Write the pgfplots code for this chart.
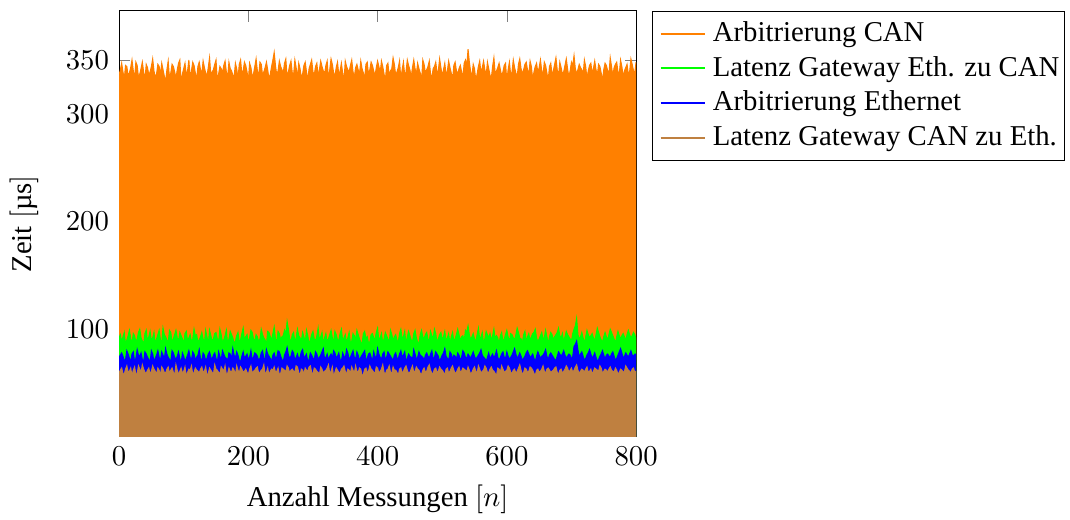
\documentclass[border=0pt,11pt]{standalone}
\usepackage{fontspec}
\setmainfont{Liberation Serif}
\usepackage{pgfplots}
\usepackage{pgfplotstable}
\pgfplotsset{compat=1.18}

% x  Arb.CAN  GW Eth->CAN  Arb.Eth  GW CAN->Eth
\pgfplotstableread{
x can gwe eth gwc
0 336 92 74 60
2 341 95 76 62
4 347 88 78 64
6 339 93 75 59
8 332 97 71 58
10 345 86 72 63
12 344 90 80 66
14 335 94 77 60
16 338 99 73 61
18 343 91 70 64
20 350 87 77 57
22 340 96 79 62
24 333 94 70 65
26 348 88 73 58
28 345 91 81 59
30 334 97 76 66
32 337 100 75 63
34 342 92 78 60
36 348 89 72 67
38 339 86 70 63
40 331 96 79 60
42 346 99 77 59
44 343 88 74 62
46 336 93 72 64
48 339 98 69 58
50 344 89 80 61
52 351 92 77 66
54 340 97 70 63
56 334 86 73 61
58 337 91 76 58
60 346 95 80 64
62 344 99 74 62
64 336 90 71 57
66 347 87 79 65
68 341 101 76 63
70 335 95 72 60
72 330 93 82 59
74 341 90 77 63
76 349 87 74 65
78 333 99 72 59
80 338 97 70 62
82 346 88 80 64
84 344 91 78 60
86 339 95 74 57
88 333 99 72 67
90 341 92 75 62
92 347 89 79 58
94 350 97 73 61
96 329 94 68 64
98 337 91 78 59
100 342 86 75 61
102 347 96 70 65
104 336 98 73 56
106 340 89 76 60
108 350 92 80 63
110 333 95 74 62
112 340 88 71 66
114 348 91 79 58
116 345 100 77 60
118 338 94 71 64
120 332 95 74 62
122 344 88 76 61
124 348 90 81 59
126 341 93 73 63
128 337 97 70 65
130 349 91 78 60
132 343 87 76 61
134 338 99 71 65
136 335 93 73 57
138 343 86 77 59
140 352 99 79 64
142 336 94 74 62
144 339 89 72 60
146 341 91 76 58
148 346 96 78 67
150 350 97 73 63
152 331 91 69 62
154 337 88 79 60
156 344 100 75 58
158 342 95 71 65
160 338 88 80 63
162 345 90 77 61
164 349 94 74 66
166 339 99 73 58
168 334 86 71 59
170 348 91 78 64
172 342 98 77 61
174 340 95 72 60
176 336 92 82 64
178 334 87 76 62
180 347 89 73 57
182 342 94 79 66
184 333 97 76 62
186 346 88 71 59
188 350 90 70 65
190 337 96 75 63
192 340 101 79 60
194 348 89 73 61
196 345 93 75 63
198 339 95 77 60
200 331 87 72 58
202 347 92 74 63
204 343 99 80 66
206 335 97 71 59
208 337 91 74 61
210 344 89 78 62
212 351 95 77 64
214 340 93 75 65
216 335 88 71 59
218 348 91 73 60
220 346 100 78 62
222 336 95 80 63
224 339 92 73 67
226 343 90 72 58
228 348 86 81 60
230 341 98 77 64
232 332 97 75 57
234 337 93 73 61
236 344 90 70 63
238 350 96 76 62
240 357 102 78 65
242 345 91 73 60
244 336 89 74 61
246 340 98 80 64
248 349 96 79 58
250 344 90 75 59
252 341 93 72 64
254 338 94 70 63
256 347 99 76 62
258 351 95 79 60
260 334 107 83 66
262 339 100 76 64
264 345 91 73 59
266 349 88 75 62
268 338 95 80 63
270 336 97 78 61
272 350 88 71 60
274 343 92 74 66
276 333 100 77 65
278 347 94 72 60
280 342 92 74 57
282 334 89 79 63
284 337 97 81 62
286 345 93 73 58
288 348 87 75 64
290 339 99 77 62
292 331 94 70 61
294 342 86 72 65
296 346 90 78 66
298 350 95 76 60
300 339 98 73 58
302 336 91 72 64
304 344 89 79 63
306 347 94 77 61
308 335 101 72 60
310 341 89 74 58
312 349 93 76 65
314 344 97 79 63
316 340 86 82 59
318 337 92 72 61
320 345 96 74 62
322 349 88 77 64
324 332 91 71 67
326 341 95 75 59
328 351 99 77 61
330 346 92 73 65
332 338 88 80 56
334 335 98 78 60
336 343 95 73 64
338 348 90 75 62
340 336 90 78 60
342 340 96 72 59
344 347 100 70 63
346 338 89 78 64
348 330 92 75 66
350 349 95 73 61
352 344 87 81 58
354 341 92 78 63
356 339 97 72 62
358 345 87 74 59
360 350 89 77 65
362 339 96 80 62
364 334 94 74 59
366 343 90 72 66
368 346 99 79 61
370 341 95 76 60
372 337 91 71 64
374 349 88 74 63
376 342 86 76 57
378 338 96 78 58
380 333 98 80 63
382 346 91 71 64
384 348 93 73 60
386 336 87 77 61
388 341 88 78 66
390 348 95 74 63
392 345 96 70 62
394 340 92 79 60
396 335 90 75 59
398 343 97 72 65
400 349 101 82 64
402 344 89 77 59
404 338 92 74 61
406 349 96 72 63
408 344 87 77 67
410 337 91 79 60
412 331 97 72 58
414 345 94 74 62
416 347 91 79 63
418 335 88 77 66
420 340 99 75 60
422 342 95 73 59
424 352 89 71 65
426 346 93 76 62
428 336 95 78 62
430 339 90 73 60
432 343 88 73 57
434 349 96 77 63
436 332 100 80 64
438 341 91 74 59
440 348 93 76 61
442 336 98 79 64
444 339 86 70 66
446 350 93 73 62
448 345 98 77 59
450 341 94 75 60
452 334 90 74 63
454 343 88 72 66
456 350 96 81 60
458 342 99 77 61
460 337 92 72 65
462 347 88 74 63
464 342 87 79 62
466 338 95 76 59
468 330 99 75 58
470 350 93 74 62
472 346 91 71 64
474 338 95 76 60
476 341 97 78 61
478 344 91 75 65
480 349 89 73 67
482 337 98 77 62
484 333 94 80 59
486 342 91 72 59
488 344 100 74 63
490 348 96 79 64
492 338 88 77 60
494 340 91 75 61
496 351 95 70 65
498 343 97 73 63
500 335 90 76 62
502 341 93 78 60
504 347 98 82 57
506 336 89 75 63
508 340 92 73 64
510 349 96 71 59
512 343 86 79 61
514 338 93 77 64
516 332 97 72 66
518 345 89 76 62
520 348 91 75 59
522 340 95 72 60
524 337 100 78 63
526 342 95 76 65
528 345 89 71 60
530 339 93 74 61
532 334 94 80 64
534 347 89 78 63
536 350 99 74 62
538 344 97 73 60
540 360 103 77 65
542 348 95 75 62
544 339 90 73 58
546 335 93 76 60
548 346 96 79 63
550 342 91 75 65
552 331 88 72 61
554 337 95 74 59
556 344 101 76 66
558 349 91 78 63
560 338 93 81 59
562 343 97 76 61
564 349 87 74 62
566 341 91 73 66
568 336 98 70 64
570 348 95 74 60
572 342 92 78 60
574 336 96 72 63
576 333 89 75 65
578 344 94 77 62
580 352 100 73 61
582 337 91 76 59
584 340 94 80 57
586 343 92 74 64
588 347 86 71 63
590 341 94 74 60
592 335 97 77 66
594 339 88 79 63
596 345 91 74 60
598 347 95 73 61
600 330 99 79 62
602 341 93 75 66
604 348 88 72 64
606 336 96 74 60
608 339 95 76 59
610 350 92 79 62
612 343 90 82 63
614 338 95 77 59
616 334 101 73 61
618 346 97 75 64
620 351 92 78 67
622 342 91 75 62
624 337 87 71 58
626 341 95 73 60
628 346 98 75 64
630 348 88 78 63
632 341 93 80 60
634 336 96 77 61
636 349 89 74 65
638 344 93 75 64
640 332 96 77 62
642 339 97 73 59
644 344 100 70 57
646 347 92 75 62
648 338 88 79 63
650 343 91 76 60
652 350 94 73 61
654 340 97 75 63
656 336 91 76 66
658 348 92 78 61
660 345 99 81 59
662 338 93 75 63
664 331 86 72 64
666 344 93 76 62
668 347 97 78 60
670 336 95 76 61
672 340 90 74 62
674 346 93 72 64
676 352 95 71 65
678 341 97 75 60
680 335 101 79 58
682 348 94 77 62
684 343 92 75 63
686 337 96 77 59
688 339 88 80 61
690 345 93 76 63
692 351 98 73 66
694 342 95 75 64
696 334 93 77 60
698 340 91 76 62
700 348 89 72 64
702 345 96 75 60
704 354 100 84 62
706 342 103 86 65
708 337 110 89 67
710 341 95 81 62
712 346 91 74 59
714 343 93 77 61
716 341 97 79 63
718 336 92 75 62
720 350 87 71 60
722 344 93 73 63
724 333 99 76 65
726 340 95 78 60
728 345 92 81 61
730 347 94 77 63
732 338 96 73 58
734 342 92 75 61
736 349 89 78 64
738 341 95 74 63
740 336 101 70 62
742 346 97 72 61
744 344 93 75 66
746 338 90 77 64
748 331 88 80 59
750 341 93 76 61
752 347 97 72 63
754 345 93 76 62
756 340 90 77 60
758 337 95 75 63
760 352 100 74 65
762 344 97 77 62
764 335 94 79 61
766 343 91 75 60
768 346 87 71 64
770 348 93 73 62
772 339 98 76 58
774 337 94 79 60
776 350 91 82 63
778 344 94 78 62
780 334 96 73 60
782 340 93 75 61
784 343 89 78 66
786 346 95 76 64
788 337 99 74 62
790 339 95 77 61
792 351 92 80 59
794 346 94 76 63
796 340 97 75 64
798 338 95 77 60
800 348 90 77 61
}\data

\begin{document}
\begin{tikzpicture}
\begin{axis}[
    scale only axis,
    width=197pt,
    height=162.5pt,
    xmin=0, xmax=800,
    ymin=0, ymax=396,
    xtick={0,200,400,600,800},
    ytick={100,200,300,350},
    xlabel={Anzahl Messungen $[n]$},
    ylabel={Zeit $[$µs$]$},
    ylabel shift=3pt,
    legend image code/.code={
        \path (-3pt,0pt) (0.6cm+0.7pt,0pt);
        \draw[#1, fill=none, line width=0.8pt] (0cm,0cm) -- (0.6cm,0cm);},
    legend style={at={(1.03,1)}, anchor=north west, cells={anchor=west},
        inner xsep=0pt},
]
\addplot[draw=orange, fill=orange] table[x=x, y=can] {\data} \closedcycle;
\addlegendentry{Arbitrierung CAN}
\addplot[draw=green, fill=green] table[x=x, y=gwe] {\data} \closedcycle;
\addlegendentry{Latenz Gateway Eth. zu CAN}
\addplot[draw=blue, fill=blue] table[x=x, y=eth] {\data} \closedcycle;
\addlegendentry{Arbitrierung Ethernet}
\addplot[draw=brown, fill=brown] table[x=x, y=gwc] {\data} \closedcycle;
\addlegendentry{Latenz Gateway CAN zu Eth.}
\end{axis}
\coordinate (nw) at (current bounding box.north west);
\coordinate (se) at (current bounding box.south east);
\pgfresetboundingbox
\path ([yshift=3.8pt]nw) rectangle ([xshift=1.9pt,yshift=1.5pt]se);
\end{tikzpicture}
\end{document}
